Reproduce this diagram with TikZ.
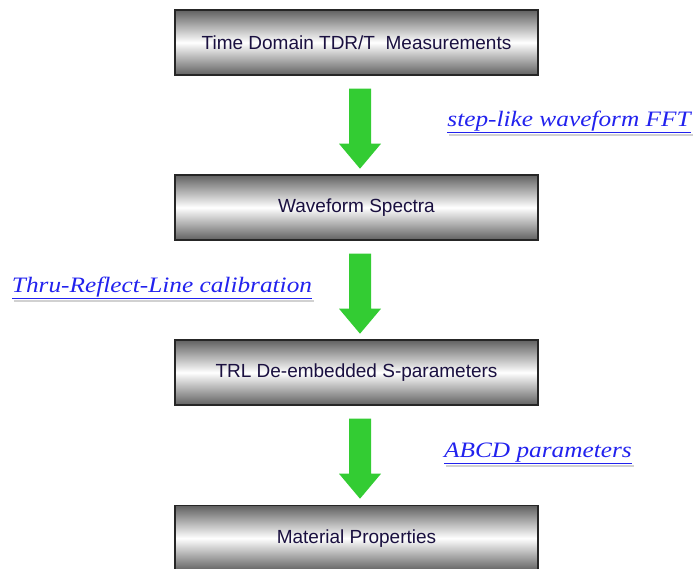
\documentclass[tikz,border=0pt]{standalone}
\usepackage{fontspec}
\setmainfont{Liberation Sans}
\newfontfamily\labelfont{Liberation Serif}
\usetikzlibrary{calc}
\definecolor{arrowgreen}{HTML}{33CC33}
\definecolor{linkblue}{HTML}{2222EE}
\definecolor{stagetext}{HTML}{1A1040}
\tikzset{
  stage/.style={draw=black!85, line width=1.4pt, minimum width=363pt, minimum height=65pt,
    inner sep=0pt, font=\fontsize{19}{22}\selectfont, text=stagetext,
    top color=black!62, bottom color=black!62, middle color=white, shading angle=0},
  linklabel/.style={font=\labelfont\itshape\fontsize{22}{25}\selectfont, text=linkblue, inner sep=0pt},
  linkshadow/.style={draw=black!18, line width=2pt}
}
% underlined, slightly widened label
\newcommand{\linktext}[1]{\scalebox{1.15}[1]{\underline{#1}}}
\begin{document}
\begin{tikzpicture}[x=1pt,y=-1pt]
  \useasboundingbox (0,0) rectangle (693,568);
  % process stages
  \node[stage] (s1) at (356.5,42.5) {Time Domain TDR/T\ \ Measurements};
  \node[stage] (s2) at (356.5,207.5) {Waveform Spectra};
  \node[stage] (s3) at (356.5,372.5) {TRL De-embedded S-parameters};
  \node[stage, anchor=north] (s4) at (356.5,505) {Material Properties};
  % block arrows from each stage down to the next
  \foreach \from in {s1,s2,s3}{
    \begin{scope}[shift={($(\from.south)+(3.5,13)$)}]
      \fill[arrowgreen] (-11,0) -- (11,0) -- (11,55) -- (21,55) -- (0,80)
                        -- (-21,55) -- (-11,55) -- cycle;
    \end{scope}
  }
  % step annotations
  \node[linklabel, anchor=base] (l1) at (569,126) {\linktext{step-like waveform FFT}};
  \node[linklabel, anchor=base] (l2) at (162,292) {\linktext{Thru-Reflect-Line\ calibration}};
  \node[linklabel, anchor=base] (l3) at (538,457) {\linktext{ABCD parameters}};
  % soft shadow under each underline
  \foreach \lab in {l1,l2,l3}{
    \draw[linkshadow] ($(\lab.south west)+(2,2)$) -- ($(\lab.south east)+(2,2)$);
  }
\end{tikzpicture}
\end{document}
